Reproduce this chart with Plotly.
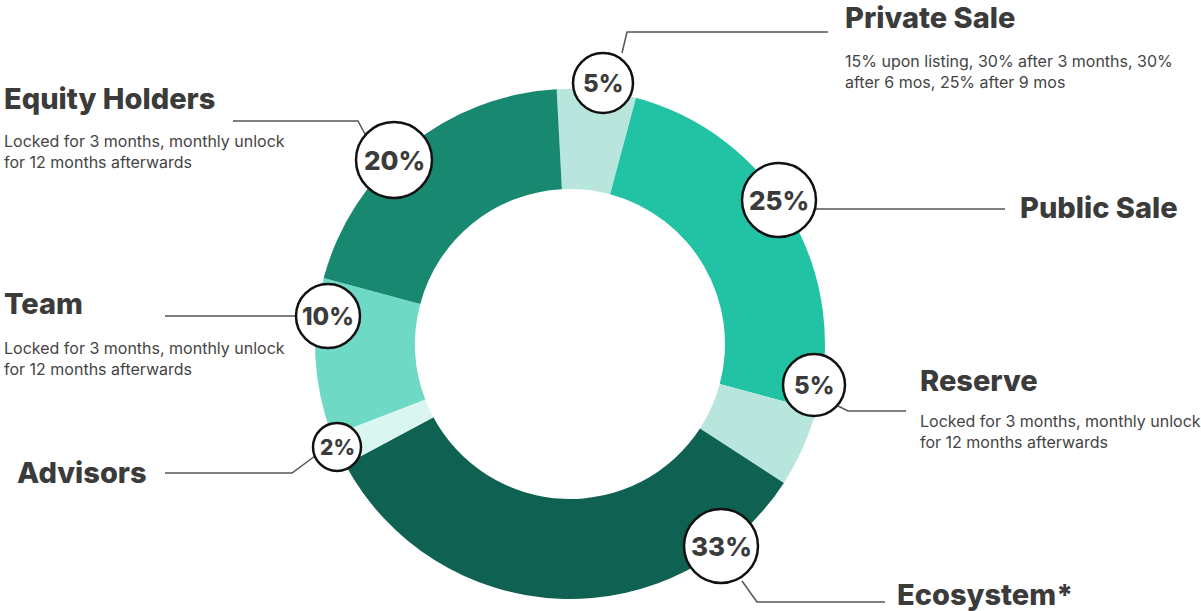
import plotly.graph_objects as go

# ---- data ----
categories = ["Private Sale", "Public Sale", "Reserve", "Ecosystem*", "Advisors", "Team", "Equity Holders"]
shares = [5, 25, 5, 33, 2, 10, 20]
descriptions = [
    "15% upon listing, 30% after 3 months, 30%<br>after 6 mos, 25% after 9 mos",
    "",
    "Locked for 3 months, monthly unlock<br>for 12 months afterwards",
    "",
    "",
    "Locked for 3 months, monthly unlock<br>for 12 months afterwards",
    "Locked for 3 months, monthly unlock<br>for 12 months afterwards",
]

# ---- style ----
colors = ["#b9e6dc", "#22c3a4", "#b9e6dc", "#0f6152", "#d9f7f0", "#6ed9c4", "#188870"]
W, H = 1201, 611
CX, CY, R = 570, 344, 255
TXT = "#3b3b3b"
LINE = "#555555"

# label layout (pixel positions): bubble centre, bubble radius, leader path, heading pos, desc pos
layout_pos = {
    "Private Sale": dict(b=(603, 83), r=30, path=[(622, 53), (627, 32), (828, 32)],
                         head=(843, 17), desc=(843, 71)),
    "Public Sale": dict(b=(779, 200), r=37, path=[(816, 209), (1005, 209)],
                        head=(1018, 207), desc=None),
    "Reserve": dict(b=(814, 385), r=31, path=[(838, 406), (848, 411), (906, 411)],
                    head=(918, 380), desc=(918, 431)),
    "Ecosystem*": dict(b=(721, 546), r=37, path=[(742, 581), (757, 602), (885, 602)],
                       head=(895, 594), desc=None),
    "Advisors": dict(b=(337, 447), r=24, path=[(315, 456), (292, 473), (165, 473)],
                     head=(15, 472), desc=None),
    "Team": dict(b=(328, 316), r=32, path=[(296, 316), (165, 316)],
                 head=(2, 303), desc=(2, 358)),
    "Equity Holders": dict(b=(394, 160), r=38, path=[(366, 136), (358, 121), (233, 121)],
                           head=(2, 98), desc=(2, 151)),
}

fig = go.Figure()
fig.add_trace(go.Pie(
    labels=categories, values=shares, sort=False, direction="clockwise", rotation=-3,
    hole=155 / R, marker=dict(colors=colors, line=dict(width=0)),
    textinfo="none", hoverinfo="label+percent", showlegend=False,
    domain=dict(x=[(CX - R) / W, (CX + R) / W], y=[(H - CY - R) / H, (H - CY + R) / H]),
))

shapes, annotations = [], []
for cat, val, desc in zip(categories, shares, descriptions):
    p = layout_pos[cat]
    pts = p["path"]
    d = "M " + " L ".join(f"{x},{y}" for x, y in pts)
    shapes.append(dict(type="path", path=d, xref="x", yref="y",
                       line=dict(color=LINE, width=1.5), layer="above"))
    bx, by = p["b"]
    r = p["r"]
    shapes.append(dict(type="circle", xref="x", yref="y", x0=bx - r, x1=bx + r, y0=by - r, y1=by + r,
                       fillcolor="white", line=dict(color="#111111", width=2.5), layer="above"))
    fs = 26 if r >= 35 else (24 if r >= 28 else 21)
    annotations.append(dict(x=bx, y=by, xref="x", yref="y", text=f"{val}%", showarrow=False,
                            font=dict(family="Inter", size=fs, color=TXT, weight=800),
                            xanchor="center", yanchor="middle"))
    hx, hy = p["head"]
    annotations.append(dict(x=hx, y=hy, xref="x", yref="y", text=cat, showarrow=False,
                            font=dict(family="Inter", size=29, color=TXT, weight=800),
                            xanchor="left", yanchor="middle"))
    if desc and p["desc"]:
        dx, dy = p["desc"]
        annotations.append(dict(x=dx, y=dy, xref="x", yref="y", text=desc, showarrow=False,
                                font=dict(family="Inter", size=16, color="#444444"),
                                align="left", xanchor="left", yanchor="middle"))

fig.update_layout(
    width=W, height=H, margin=dict(l=0, r=0, t=0, b=0),
    paper_bgcolor="white", plot_bgcolor="rgba(0,0,0,0)",
    xaxis=dict(range=[0, W], visible=False, fixedrange=True),
    yaxis=dict(range=[H, 0], visible=False, fixedrange=True),
    shapes=shapes, annotations=annotations,
)
fig.write_html("out.html", config={"displayModeBar": False},
               post_script="document.body.style.margin='0px';document.body.style.overflow='hidden';")
